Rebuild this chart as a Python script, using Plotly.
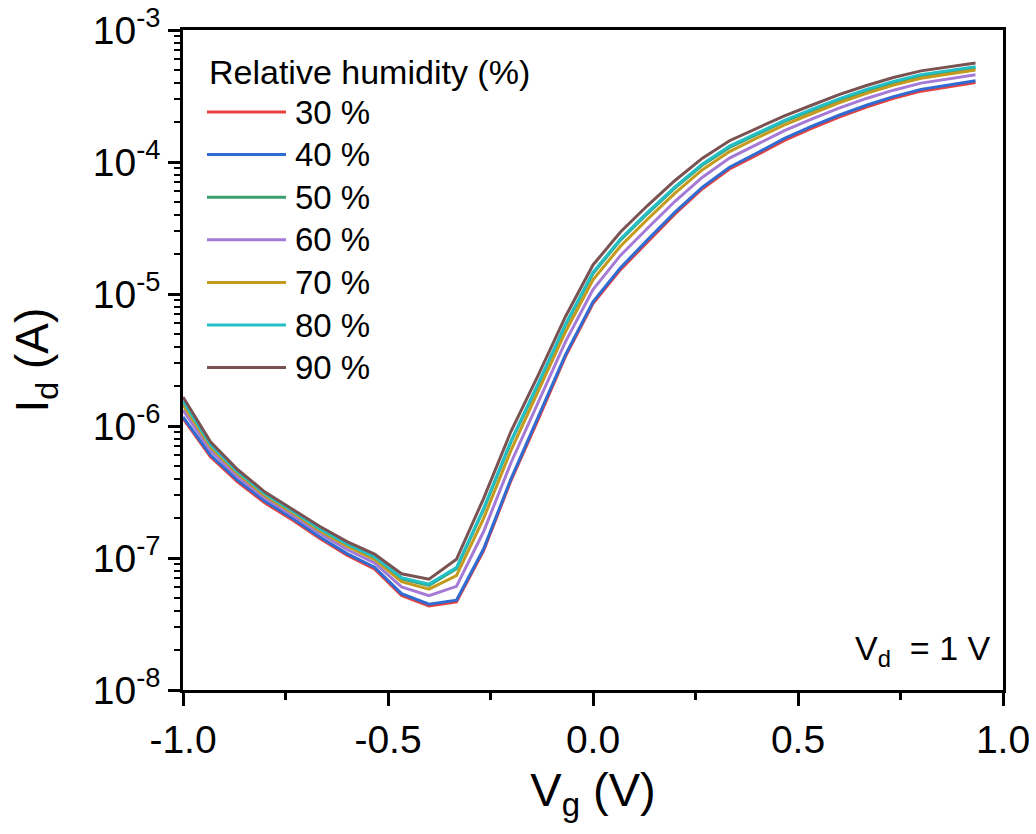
import plotly.graph_objects as go

# ---- data ----
vg = [-1.0, -0.933, -0.867, -0.8, -0.733, -0.667, -0.6, -0.533, -0.467, -0.4,
      -0.333, -0.267, -0.2, -0.133, -0.067, 0.0, 0.067, 0.133, 0.2, 0.267,
      0.333, 0.4, 0.467, 0.533, 0.6, 0.667, 0.733, 0.8, 0.867, 0.933]

id_30 = [1.14e-6, 5.85e-7, 3.77e-7, 2.61e-7, 1.94e-7, 1.41e-7, 1.05e-7, 8.25e-8, 5.21e-8, 4.34e-8,
         4.65e-8, 1.13e-7, 3.86e-7, 1.13e-6, 3.37e-6, 8.45e-6, 1.53e-5, 2.49e-5, 4.04e-5, 6.27e-5,
         8.85e-5, 1.13e-4, 1.46e-4, 1.80e-4, 2.19e-4, 2.61e-4, 3.04e-4, 3.44e-4, 3.72e-4, 4.00e-4]
id_40 = [1.17e-6, 6.03e-7, 3.89e-7, 2.69e-7, 2.00e-7, 1.45e-7, 1.08e-7, 8.51e-8, 5.37e-8, 4.47e-8,
         4.79e-8, 1.17e-7, 3.98e-7, 1.17e-6, 3.47e-6, 8.71e-6, 1.58e-5, 2.57e-5, 4.17e-5, 6.46e-5,
         9.12e-5, 1.17e-4, 1.51e-4, 1.86e-4, 2.26e-4, 2.69e-4, 3.13e-4, 3.55e-4, 3.83e-4, 4.12e-4]
id_50 = [1.52e-6, 7.10e-7, 4.42e-7, 3.00e-7, 2.22e-7, 1.64e-7, 1.25e-7, 1.00e-7, 6.94e-8, 6.21e-8,
         8.30e-8, 2.32e-7, 7.58e-7, 2.08e-6, 5.80e-6, 1.43e-5, 2.56e-5, 4.07e-5, 6.36e-5, 9.49e-5,
         1.29e-4, 1.62e-4, 2.03e-4, 2.45e-4, 2.95e-4, 3.48e-4, 4.00e-4, 4.50e-4, 4.83e-4, 5.17e-4]
id_60 = [1.32e-6, 6.52e-7, 4.14e-7, 2.84e-7, 2.11e-7, 1.54e-7, 1.16e-7, 9.20e-8, 6.04e-8, 5.19e-8,
         6.10e-8, 1.58e-7, 5.27e-7, 1.51e-6, 4.36e-6, 1.08e-5, 1.96e-5, 3.15e-5, 5.04e-5, 7.67e-5,
         1.07e-4, 1.36e-4, 1.73e-4, 2.11e-4, 2.56e-4, 3.03e-4, 3.50e-4, 3.96e-4, 4.27e-4, 4.58e-4]
id_70 = [1.45e-6, 6.92e-7, 4.35e-7, 2.96e-7, 2.20e-7, 1.61e-7, 1.23e-7, 9.77e-8, 6.61e-8, 5.81e-8,
         7.35e-8, 1.99e-7, 6.55e-7, 1.83e-6, 5.18e-6, 1.28e-5, 2.30e-5, 3.68e-5, 5.81e-5, 8.75e-5,
         1.20e-4, 1.52e-4, 1.91e-4, 2.32e-4, 2.81e-4, 3.31e-4, 3.82e-4, 4.31e-4, 4.62e-4, 4.97e-4]
id_80 = [1.55e-6, 7.24e-7, 4.51e-7, 3.06e-7, 2.27e-7, 1.67e-7, 1.28e-7, 1.02e-7, 7.08e-8, 6.34e-8,
         8.47e-8, 2.37e-7, 7.73e-7, 2.12e-6, 5.92e-6, 1.46e-5, 2.61e-5, 4.15e-5, 6.49e-5, 9.68e-5,
         1.32e-4, 1.65e-4, 2.07e-4, 2.50e-4, 3.01e-4, 3.55e-4, 4.08e-4, 4.59e-4, 4.93e-4, 5.28e-4]
id_90 = [1.66e-6, 7.59e-7, 4.68e-7, 3.16e-7, 2.34e-7, 1.74e-7, 1.33e-7, 1.07e-7, 7.59e-8, 6.92e-8,
         9.77e-8, 2.82e-7, 9.12e-7, 2.45e-6, 6.76e-6, 1.66e-5, 2.95e-5, 4.68e-5, 7.24e-5, 1.07e-4,
         1.45e-4, 1.80e-4, 2.24e-4, 2.69e-4, 3.24e-4, 3.80e-4, 4.37e-4, 4.90e-4, 5.25e-4, 5.62e-4]

series_names = ["30 %", "40 %", "50 %", "60 %", "70 %", "80 %", "90 %"]
series_values = [id_30, id_40, id_50, id_60, id_70, id_80, id_90]
series_colors = ["#e5413f", "#2f6bd0", "#3a9e6e", "#a47ad6", "#c49a1e", "#22c0c6", "#7a5252"]

x_tickvals = [-1.0, -0.5, 0.0, 0.5, 1.0]
x_ticktext = ["-1.0", "-0.5", "0.0", "0.5", "1.0"]
y_tickvals = [1e-8, 1e-7, 1e-6, 1e-5, 1e-4, 1e-3]
y_ticktext = ["10<sup>-8</sup>", "10<sup>-7</sup>", "10<sup>-6</sup>",
              "10<sup>-5</sup>", "10<sup>-4</sup>", "10<sup>-3</sup>"]

FONT = "Liberation Sans, Arial, sans-serif"
W, H = 1036, 834
L, R, T, B = 183, 33, 30, 144
PW, PH = W - L - R, H - T - B


def px_to_paper(xp, yp):
    return (xp - L) / PW, (H - B - yp) / PH


fig = go.Figure()
for name, vals, col in zip(series_names, series_values, series_colors):
    fig.add_trace(go.Scatter(x=vg, y=vals, mode="lines", name=name,
                             line=dict(color=col, width=3), showlegend=False))

# custom legend (long line samples like the original)
shapes = []
annotations = []
tx, ty = px_to_paper(207, 72)
annotations.append(dict(x=tx, y=ty, xref="paper", yref="paper", xanchor="left",
                        yanchor="middle", showarrow=False, text="Relative humidity (%)",
                        font=dict(family=FONT, size=34, color="black")))
for i, (name, col) in enumerate(zip(series_names, series_colors)):
    yp = 112 + i * 42.6
    x0, y0 = px_to_paper(207, yp)
    x1, _ = px_to_paper(286, yp)
    shapes.append(dict(type="line", xref="paper", yref="paper", x0=x0, x1=x1, y0=y0, y1=y0,
                       line=dict(color=col, width=3)))
    xt, _ = px_to_paper(293, yp)
    annotations.append(dict(x=xt, y=y0, xref="paper", yref="paper", xanchor="left",
                            yanchor="middle", showarrow=False, text=name,
                            font=dict(family=FONT, size=33, color="black")))

ax, ay = px_to_paper(992, 650)
annotations.append(dict(x=ax, y=ay, xref="paper", yref="paper", xanchor="right",
                        yanchor="middle", showarrow=False,
                        text="V<sub>d</sub>\u00a0 = 1\u00a0V",
                        font=dict(family=FONT, size=34, color="black")))

fig.update_layout(
    width=W, height=H,
    margin=dict(l=L, r=R, t=T, b=B, pad=0, autoexpand=False),
    paper_bgcolor="white", plot_bgcolor="white",
    font=dict(family=FONT, color="black"),
    shapes=shapes, annotations=annotations,
    showlegend=False,
)
fig.update_xaxes(
    range=[-1, 1], tickvals=x_tickvals, ticktext=x_ticktext, automargin=False,
    ticks="outside", ticklen=13, tickwidth=2.5, tickcolor="black",
    minor=dict(ticks="outside", ticklen=7, tickwidth=2.5, tickcolor="black",
               dtick=0.25, tick0=-1, showgrid=False),
    showline=True, linewidth=2.5, linecolor="black", mirror=True,
    showgrid=False, zeroline=False,
    tickfont=dict(family=FONT, size=39, color="black"),
    title=dict(text="V<sub>g</sub> (V)", font=dict(family=FONT, size=47, color="black"),
               standoff=14),
)
fig.update_yaxes(
    type="log", range=[-8, -3], tickvals=y_tickvals, ticktext=y_ticktext, automargin=False,
    ticks="outside", ticklen=12, tickwidth=2.5, tickcolor="black",
    minor=dict(ticks="outside", ticklen=6, tickwidth=2, tickcolor="black",
               dtick="D1", showgrid=False),
    showline=True, linewidth=2.5, linecolor="black", mirror=True,
    showgrid=False, zeroline=False,
    tickfont=dict(family=FONT, size=39, color="black"),
    title=dict(text="I<sub>d</sub> (A)", font=dict(family=FONT, size=46, color="black"),
               standoff=30),
)

fig.write_html("out.html", config={"displayModeBar": False},
               post_script="document.body.style.margin='0';document.body.style.overflow='hidden';")
